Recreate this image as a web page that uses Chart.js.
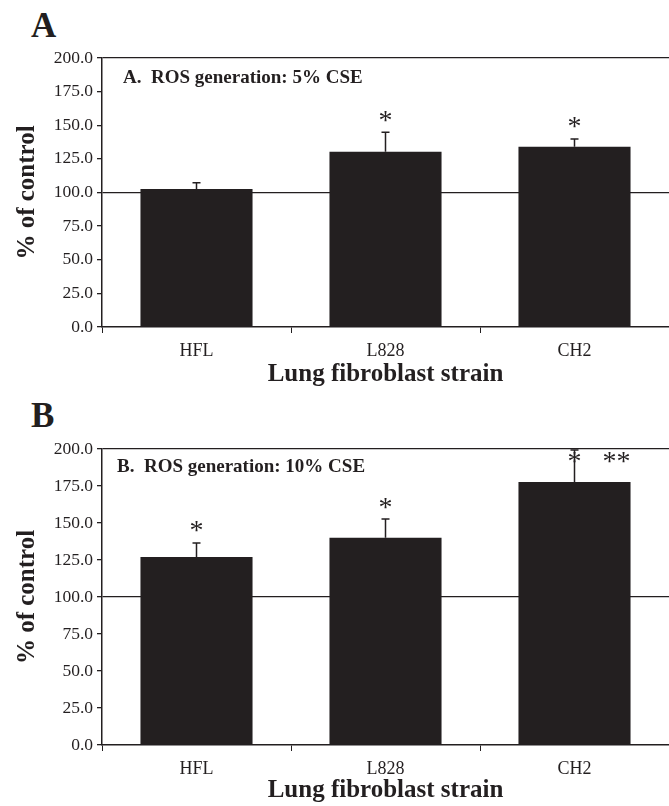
<!DOCTYPE html>
<html>
<head>
<meta charset="utf-8">
<script src="https://cdn.jsdelivr.net/npm/chart.js@4.4.1/dist/chart.umd.min.js"></script>
<style>
  html, body { margin:0; padding:0; background:#fff; }
  #wrap { position:relative; width:669px; height:806px; overflow:hidden; }
  canvas { position:absolute; left:0; }
  .panel { position:absolute; left:31px; font:bold 35px "Liberation Serif", serif; line-height:34px; color:#231f20; }
</style>
</head>
<body>
<div id="wrap">
  <div class="panel" style="top:9px">A</div>
  <canvas id="chartA" width="669" height="395" style="top:0"></canvas>
  <div class="panel" style="top:399px">B</div>
  <canvas id="chartB" width="669" height="411" style="top:395px"></canvas>
</div>
<script>
/* ── data ── */
const strains = ['HFL', 'L828', 'CH2'];
const yTicks  = [0, 25, 50, 75, 100, 125, 150, 175, 200];

const ros5   = [102.6, 130.3, 134.1];   // % of control, 5% CSE
const err5   = [4.7, 14.5, 5.7];
const sig5   = ['', '*', '*'];

const ros10  = [127.0, 140.1, 177.7];   // % of control, 10% CSE
const err10  = [9.5, 12.6, 21.6];
const sig10  = ['*', '*', '*   **'];

const ink   = '#231f20';
const serif = '"Liberation Serif", "Times New Roman", serif';

/* error bars, asterisks and the boxed caption, drawn from the scales */
const marksPlugin = {
  id: 'marks',
  afterDatasetsDraw(chart, args, opts) {
    const { ctx, chartArea } = chart;
    const y = chart.scales.y;
    const meta = chart.getDatasetMeta(0);
    const vals = chart.data.datasets[0].data;
    ctx.save();
    ctx.strokeStyle = ink;
    ctx.fillStyle = ink;
    ctx.lineWidth = 1.5;
    meta.data.forEach((bar, i) => {
      const top = y.getPixelForValue(vals[i] + opts.err[i]);
      ctx.beginPath();
      ctx.moveTo(bar.x, bar.y);
      ctx.lineTo(bar.x, top);
      ctx.moveTo(bar.x - 4, top);
      ctx.lineTo(bar.x + 4, top);
      ctx.stroke();

      const s = opts.sig[i];
      if (!s) return;
      ctx.font = '28px ' + serif;
      const m = ctx.measureText('*');
      const cy = Math.max(top - 16, chartArea.top + 8);
      const base = cy + (m.actualBoundingBoxAscent - m.actualBoundingBoxDescent) / 2;
      ctx.textAlign = 'left';
      ctx.textBaseline = 'alphabetic';
      ctx.fillText(s, bar.x - m.width / 2, base);
    });
    /* caption inside plot */
    ctx.font = 'bold 19px ' + serif;
    ctx.textAlign = 'left';
    ctx.textBaseline = 'middle';
    ctx.fillText(opts.title, chartArea.left + opts.dx, chartArea.top + opts.dy);
    ctx.restore();
  }
};

function makeChart(id, values, errs, sigs, caption, dx, dy, padTop, xHeight, titlePad) {
  return new Chart(document.getElementById(id), {
    type: 'bar',
    data: {
      labels: strains,
      datasets: [{ data: values, backgroundColor: ink, borderWidth: 0,
                   barPercentage: 0.593, categoryPercentage: 1 }]
    },
    options: {
      responsive: false,
      animation: false,
      devicePixelRatio: 1,
      layout: { padding: { top: padTop, right: 0, bottom: 0, left: 0 } },
      plugins: {
        legend: { display: false },
        tooltip: { enabled: false },
        marks: { err: errs, sig: sigs, title: caption, dx, dy }
      },
      scales: {
        x: {
          afterFit: s => { s.height = xHeight; },
          border: { display: true, color: ink, width: 1.5 },
          grid: { drawOnChartArea: false, drawTicks: true, tickLength: 6, tickColor: ink, offset: true },
          ticks: { color: ink, font: { family: serif, size: 18 }, padding: 7 },
          title: { display: true, text: 'Lung fibroblast strain', color: ink,
                   font: { family: serif, size: 25, weight: 'bold' }, padding: { top: 0, bottom: titlePad } }
        },
        y: {
          min: 0, max: 200,
          afterFit: s => { s.width = 102; },
          afterBuildTicks: s => { s.ticks = yTicks.map(v => ({ value: v })); },
          border: { display: true, color: ink, width: 1.5 },
          grid: {
            color: c => (c.tick && (c.tick.value === 100 || c.tick.value === 200)) ? ink : 'rgba(0,0,0,0)',
            lineWidth: 1.3, tickLength: 5, tickColor: ink, drawTicks: true
          },
          ticks: { color: ink, font: { family: serif, size: 17.5 }, padding: 4,
                   callback: v => Number(v).toFixed(1) },
          title: { display: true, text: '% of control', color: ink,
                   font: { family: serif, size: 25, weight: 'bold' }, padding: { top: 13, bottom: 0 } }
        }
      }
    },
    plugins: [marksPlugin]
  });
}

makeChart('chartA', ros5,  err5,  sig5,  'A.  ROS generation: 5% CSE',  21, 20, 58, 68, 5);
makeChart('chartB', ros10, err10, sig10, 'B.  ROS generation: 10% CSE', 15, 18, 54, 61, 0);
</script>
</body>
</html>
